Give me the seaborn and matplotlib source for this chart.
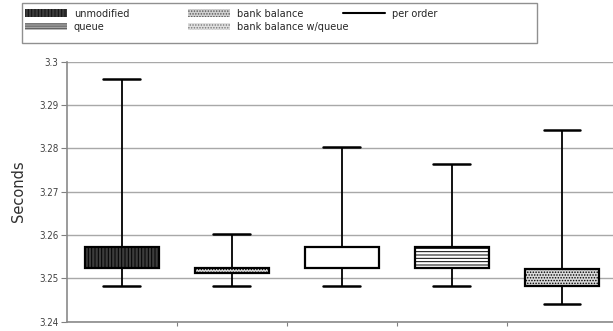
import numpy as np
import pandas as pd
import matplotlib
matplotlib.use("Agg")
import matplotlib.pyplot as plt
from matplotlib.patches import Patch, Rectangle
from matplotlib.lines import Line2D
import seaborn as sns

# box order on the chart (left to right)
configs = ["unmodified", "bank balance", "per order", "queue", "bank balance w/queue"]
low = [3.2482, 3.2482, 3.2482, 3.2482, 3.2441]
q1 = [3.2523, 3.2513, 3.2523, 3.2523, 3.2482]
q3 = [3.2572, 3.2523, 3.2572, 3.2572, 3.2522]
high = [3.2961, 3.2602, 3.2803, 3.2763, 3.2842]

y_ticks = [3.24, 3.25, 3.26, 3.27, 3.28, 3.29, 3.3]
y_tick_labels = ["3.24", "3.25", "3.26", "3.27", "3.28", "3.29", "3.3"]

face = {"unmodified": "#3c3c3c", "bank balance": "#dcdcdc", "per order": "white",
        "queue": "white", "bank balance w/queue": "#dadada"}
hatch = {"unmodified": "|||||", "bank balance": "......", "per order": "",
         "queue": "-----", "bank balance w/queue": "......"}

# five points per box -> quartiles land on q1/q3, whiskers on min/max
rows = []
for c, a, b, d, e in zip(configs, low, q1, q3, high):
    for v in (a, b, b, d, e):
        rows.append({"config": c, "seconds": v})
df = pd.DataFrame(rows)

sns.set_style("white")
plt.rcParams["font.family"] = ["DejaVu Sans"]
plt.rcParams["hatch.linewidth"] = 0.7

fig = plt.figure(figsize=(6.13, 3.31), dpi=100)
ax = fig.add_axes([66.7 / 613, 9.4 / 331, (617 - 66.7) / 613, 0.785])

sns.boxplot(data=df, x="config", y="seconds", order=configs, hue="config",
            palette=face, legend=False, whis=np.inf, width=0.67,
            linecolor="black", linewidth=1.6, ax=ax,
            medianprops={"visible": False},
            whiskerprops={"linewidth": 1.3}, capprops={"linewidth": 1.8})

for patch, c in zip(ax.patches, configs):
    patch.set_hatch(hatch[c])
    patch.set_edgecolor("black")

ax.set_xlim(-0.5, 4.5)
ax.set_ylim(3.24, 3.3)
ax.set_yticks(y_ticks)
ax.set_yticklabels(y_tick_labels, fontsize=7, color="#404040", fontstretch="condensed")
ax.set_xticks([0.5, 1.5, 2.5, 3.5])
ax.set_xticklabels([])
ax.set_xlabel("")
ax.set_ylabel("Seconds", fontsize=10.5, color="#303030", labelpad=9)
ax.yaxis.grid(True, color="#a8a8a8", linewidth=1)
ax.set_axisbelow(True)
ax.tick_params(axis="y", direction="out", length=4, color="#808080", pad=2, left=True)
ax.tick_params(axis="x", direction="out", length=3, color="#808080", bottom=True)
for s in ["top", "right"]:
    ax.spines[s].set_visible(False)
for s in ["left", "bottom"]:
    ax.spines[s].set_color("#8a8a8a")
    ax.spines[s].set_linewidth(1.2)

# legend: three separate columns inside one grey frame
fig.patches.append(Rectangle((22 / 613, 1 - 43 / 331), 515 / 613, 40 / 331,
                             transform=fig.transFigure, fill=False,
                             edgecolor="#909090", linewidth=1))
cols = [
    [Patch(facecolor="#3c3c3c", edgecolor="#111111", linewidth=0, hatch="|||||", label="unmodified"),
     Patch(facecolor="white", edgecolor="black", linewidth=0, hatch="--------", label="queue")],
    [Patch(facecolor="#d0d0d0", edgecolor="#555555", linewidth=0, hatch="......", label="bank balance"),
     Patch(facecolor="#e0e0e0", edgecolor="#777777", linewidth=0, hatch="......", label="bank balance w/queue")],
    [Line2D([], [], color="black", linewidth=1.5, label="per order")],
]
col_x = [25, 188, 343]
for handles, x in zip(cols, col_x):
    fig.legend(handles=handles, loc="upper left", bbox_to_anchor=(x / 613, 1 - 9 / 331),
               frameon=False, handlelength=3.9, handleheight=0.75,
               handletextpad=0.6, labelspacing=0.3, borderpad=0, borderaxespad=0,
               prop={"size": 7.8, "stretch": "condensed"})

fig.savefig("out.png", dpi=100)
